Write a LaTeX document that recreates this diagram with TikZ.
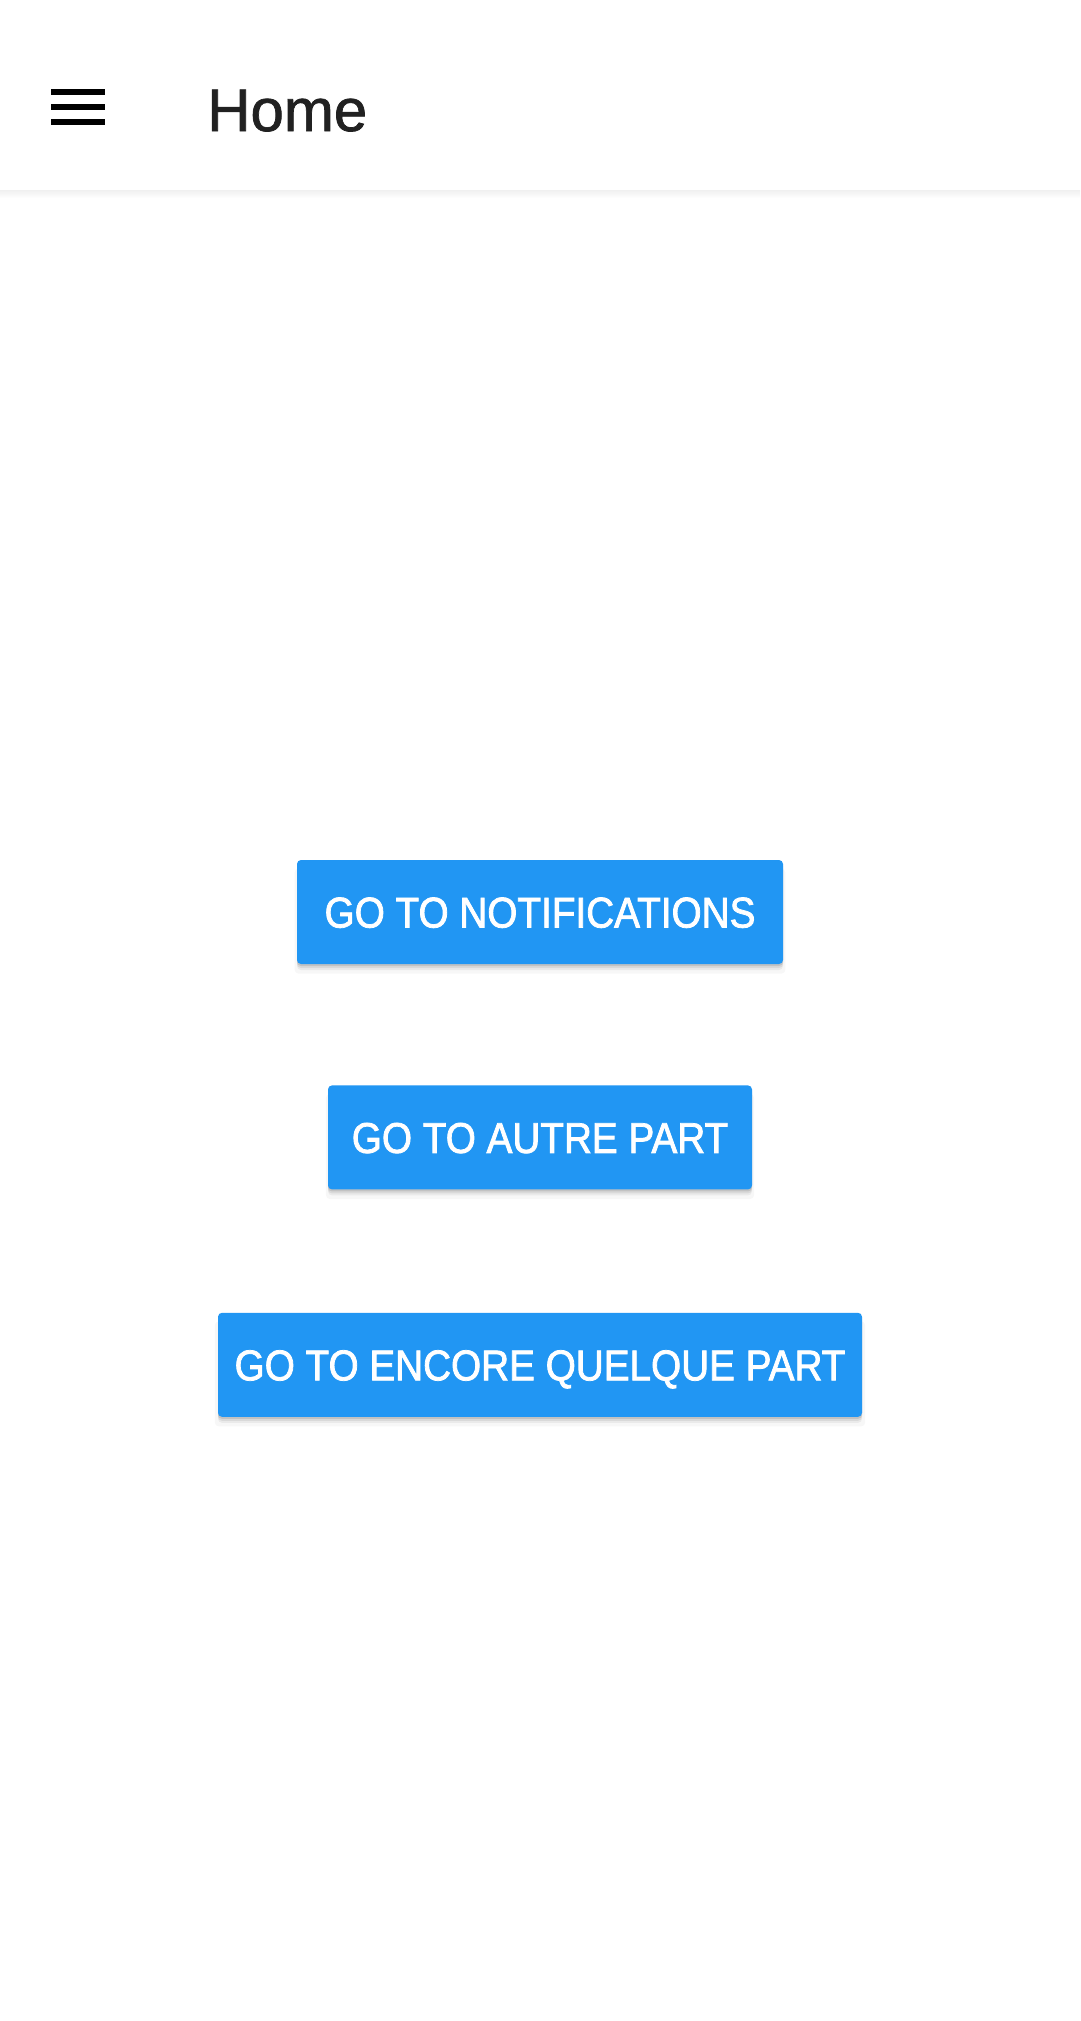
\documentclass[tikz,border=0pt]{standalone}
\usepackage{fontspec}
\setmainfont{Liberation Sans}
\newfontfamily\btnfont[FakeStretch=0.9, FakeBold=1.8]{Liberation Sans}
\newfontfamily\titlefont[FakeBold=1.2]{Liberation Sans}
\usepackage{xcolor}
\usepackage{tikz}
\usetikzlibrary{positioning,shadows}
\definecolor{btnblue}{HTML}{2196F3}
\definecolor{titlegray}{HTML}{212121}

\begin{document}
\begin{tikzpicture}[x=1pt, y=-1pt,
  every node/.style={inner sep=0pt},
  btn/.style={fill=btnblue, rounded corners=4pt, minimum height=104pt,
    text=white, font=\btnfont\fontsize{43}{51}\selectfont, text height=31pt, text depth=0pt,
    drop shadow={shadow xshift=0pt, shadow yshift=-9pt, shadow scale=1.01, opacity=.03, fill=black},
    drop shadow={shadow xshift=0pt, shadow yshift=-6pt, opacity=.05, fill=black},
    drop shadow={shadow xshift=0pt, shadow yshift=-4pt, opacity=.07, fill=black},
    drop shadow={shadow xshift=0pt, shadow yshift=-2pt, opacity=.10, fill=black}}
]
\useasboundingbox (0,0) rectangle (1080,2021);
\fill[white] (0,0) rectangle (1080,2021);
\shade[top color=black!6, bottom color=white] (0,190) rectangle (1080,198);
\foreach \y in {92,107,122}
  \fill[black] (51,\y-3) rectangle (105,\y+3);
\node[anchor=base west, text=titlegray, font=\titlefont\fontsize{60}{72}\selectfont] (title) at (207,131) {Home};
\node[btn, minimum width=486pt] (notif) at (540,912) {GO TO NOTIFICATIONS};
\node[btn, minimum width=424pt, below=121pt of notif] (autre) {GO TO AUTRE PART};
\node[btn, minimum width=644pt, below=123pt of autre] (encore) {GO TO ENCORE QUELQUE PART};
\end{tikzpicture}
\end{document}
